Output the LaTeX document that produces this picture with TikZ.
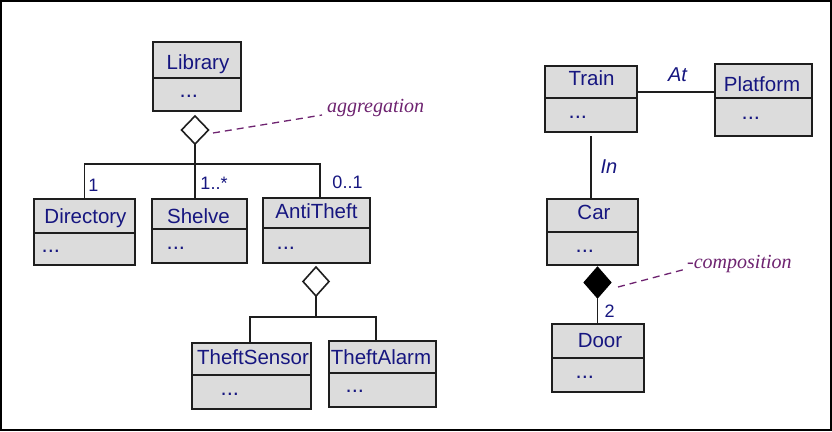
\documentclass[tikz,border=0pt]{standalone}
\usepackage{fontspec}
\setmainfont{Liberation Sans}
\newfontfamily\serifit{Liberation Serif}
\usetikzlibrary{shapes.geometric}
\definecolor{navy}{RGB}{22,22,128}
\definecolor{notepurple}{RGB}{110,35,112}
\definecolor{boxgray}{RGB}{220,220,220}
\definecolor{edgecol}{RGB}{30,30,30}
\tikzset{
 clsbox/.style={draw=edgecol, fill=boxgray, line width=1.8pt, rectangle, inner sep=0pt, outer sep=0pt},
 divline/.style={draw=edgecol, line width=1.6pt},
 clsname/.style={anchor=base, inner sep=0pt, text=navy, font=\fontsize{20.5}{24}\selectfont},
 clsdots/.style={anchor=base west, inner sep=0pt, text=navy, font=\fontsize{22}{24}\selectfont},
 conn/.style={draw=edgecol, line width=1.6pt},
 mult/.style={anchor=base, inner sep=0pt, text=navy, font=\fontsize{18}{20}\selectfont},
 assoc/.style={anchor=base, inner sep=0pt, text=navy, font=\fontsize{20}{22}\selectfont\itshape},
 notetext/.style={anchor=base west, inner sep=0pt, text=notepurple, font=\serifit\fontsize{20}{22}\selectfont\itshape},
 noteline/.style={draw=notepurple, line width=1.3pt, dash pattern=on 7pt off 5pt},
 aggdia/.style={diamond, draw=edgecol, fill=white, line width=1.6pt, inner sep=0pt, outer sep=0pt},
 compdia/.style={diamond, draw=black, fill=black, line width=1pt, inner sep=0pt, outer sep=0pt},
}
\newcommand\umlclass[8]{%
 \node[clsbox, minimum width=#3, minimum height=#4] (#1) at #2 {};
 \draw[divline] (#1.west |- 0,#5) -- (#1.east |- 0,#5);
 \node[clsname] (#1-name) at #7 {#6};
 \node[clsdots] (#1-dots) at #8 {...};
}
\begin{document}
\begin{tikzpicture}[x=1pt,y=-1pt]
\useasboundingbox (0,0) rectangle (832,431);
\fill[white] (0,0) rectangle (832,431);
\draw[line width=2pt, draw=black] (1,1) rectangle (831,429.5);

% classes
\umlclass{lib}{(197,76.5)}{88pt}{69pt}{78}{Library}{(198,69)}{(179.5,97)}
\umlclass{dir}{(84.5,232)}{101pt}{66pt}{233}{Directory}{(85.5,223)}{(41.5,252)}
\umlclass{shelve}{(199.5,231)}{95pt}{64pt}{229}{Shelve}{(198.5,223)}{(166.5,249)}
\umlclass{anti}{(316.5,230.5)}{107pt}{65pt}{228}{AntiTheft}{(316.5,218)}{(276.5,249)}
\umlclass{sensor}{(251.5,376)}{119pt}{66pt}{375}{TheftSensor}{(253,364)}{(220.5,395)}
\umlclass{alarm}{(382.5,374)}{107pt}{66pt}{373}{TheftAlarm}{(381,364)}{(345.5,392)}
\umlclass{train}{(591,99)}{92pt}{66pt}{98}{Train}{(591.5,85)}{(568.5,118)}
\umlclass{plat}{(763.5,100)}{97pt}{72pt}{98}{Platform}{(762,91)}{(741.5,119)}
\umlclass{car}{(592.5,232)}{91pt}{66pt}{232}{Car}{(594,219)}{(575.5,252)}
\umlclass{door}{(598,358)}{92pt}{68pt}{358}{Door}{(600,347)}{(575.5,378)}

% aggregation Library
\node[aggdia, minimum width=27pt, minimum height=28pt] (agg1) at (195,130) {};
\coordinate (bus1) at (195,164);
\draw[conn] (agg1.south) -- (bus1);
\draw[conn] (dir.north) |- (bus1) -| ([xshift=3.5pt]anti.north);
\draw[conn] (bus1) -- (bus1 |- shelve.north);
\node[mult] (m1) at (93.5,191) {1};
\node[mult] (m2) at (214,189) {1..*};
\node[mult] (m3) at (347.5,188) {0..1};

% aggregation AntiTheft
\node[aggdia, minimum width=26pt, minimum height=29pt] (agg2) at (316,281.5) {};
\coordinate (bus2) at (316,317);
\draw[conn] (agg2.south) -- (bus2);
\draw[conn] ([xshift=-1.5pt]sensor.north) |- (bus2) -| ([xshift=-6.5pt]alarm.north);

% Train - Platform
\draw[conn] ([yshift=7pt]train.east) -- ([yshift=7pt]train.east -| plat.west);
\node[assoc] (at) at (677.5,81) {At};

% Train - Car
\draw[conn, shorten <=4pt] (train.south) -- (train.south |- car.north);
\node[assoc] (in) at (609,173) {In};

% composition
\node[compdia, minimum width=27pt, minimum height=31pt] (comp) at (597.5,282.5) {};
\draw[conn] (comp.south) -- (comp.south |- door.north);
\node[mult] (m4) at (609.5,317) {2};

% notes
\node[notetext] (aggtext) at (327,112) {aggregation};
\draw[noteline] ([xshift=4.5pt,yshift=-3pt]agg1.east) -- ([xshift=-5pt,yshift=-3pt]aggtext.base west);
\node[notetext] (comptext) at (687,268) {-composition};
\draw[noteline] ([xshift=7pt,yshift=-4.5pt]comp.east) -- ([xshift=-1pt,yshift=-1pt]comptext.base west);
\end{tikzpicture}
\end{document}
